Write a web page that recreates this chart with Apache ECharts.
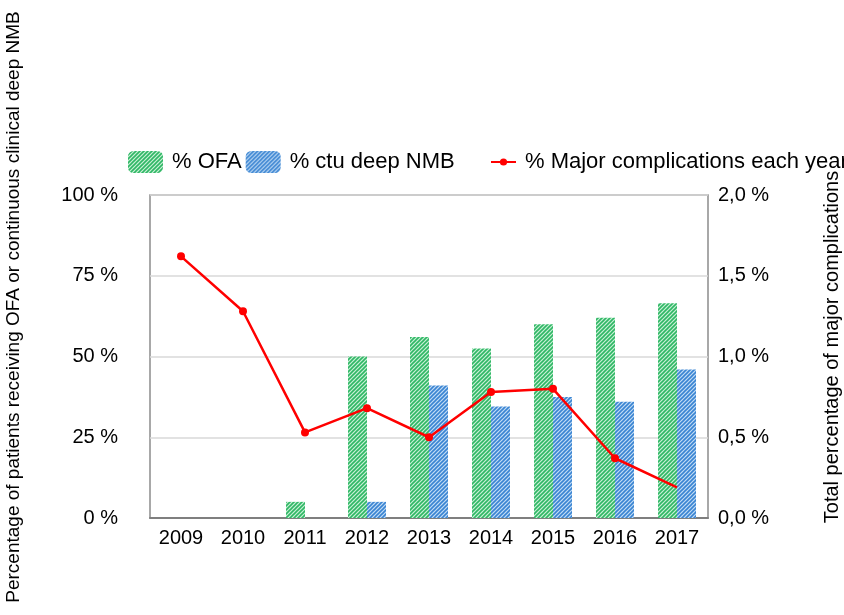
<!DOCTYPE html>
<html>
<head>
<meta charset="utf-8">
<script src="https://cdn.jsdelivr.net/npm/echarts@6/dist/echarts.min.js"></script>
<style>
  html, body { margin: 0; padding: 0; background: #fff; }
  #chart { width: 844px; height: 615px; }
</style>
</head>
<body>
<div id="chart"></div>
<script>
const years = ['2009', '2010', '2011', '2012', '2013', '2014', '2015', '2016', '2017'];
const ofa = [0, 0, 5, 50, 56, 52.5, 60, 62, 66.5];
const ctuNmb = [0, 0, 0, 5, 41, 34.5, 37.5, 36, 46];
const majorComp = [1.62, 1.28, 0.53, 0.68, 0.5, 0.78, 0.8, 0.37, 0.19];
const leftTicks = [0, 25, 50, 75, 100];
const rightTicks = [0, 0.5, 1.0, 1.5, 2.0];

// diagonal hatch pattern like the excel fill
function hatch(bg, line) {
    const c = document.createElement('canvas');
    c.width = 4;
    c.height = 4;
    const ctx = c.getContext('2d');
    ctx.fillStyle = bg;
    ctx.fillRect(0, 0, 4, 4);
    ctx.strokeStyle = line;
    ctx.lineWidth = 1.6;
    ctx.beginPath();
    ctx.moveTo(-1, 5); ctx.lineTo(5, -1);
    ctx.moveTo(-1, 1); ctx.lineTo(1, -1);
    ctx.moveTo(3, 5); ctx.lineTo(5, 3);
    ctx.stroke();
    return { image: c, repeat: 'repeat' };
}

const font = 'Liberation Sans, Arial, sans-serif';
const legendText = { fontSize: 22, color: '#000', fontFamily: font, padding: [0, 0, 0, 4] };
const chart = echarts.init(document.getElementById('chart'));

chart.setOption({
    animation: false,
    textStyle: { fontFamily: font },
    legend: [{
        left: 123,
        top: 146,
        itemGap: 4,
        itemWidth: 35,
        itemHeight: 22,
        textStyle: legendText,
        data: ['% OFA', '% ctu deep NMB']
    }, {
        left: 485,
        top: 146,
        itemWidth: 25,
        itemHeight: 9,
        textStyle: legendText,
        data: ['% Major complications each year']
    }],
    grid: {
        left: 150,
        right: 136,
        top: 195,
        bottom: 97,
        show: true,
        borderColor: '#8c8c8c',
        borderWidth: 1.5
    },
    xAxis: {
        type: 'category',
        data: years,
        axisTick: { show: false },
        axisLine: { lineStyle: { color: '#7f7f7f', width: 2 } },
        axisLabel: { fontSize: 20, color: '#000', margin: 10 }
    },
    yAxis: [{
        type: 'value',
        min: leftTicks[0],
        max: leftTicks[leftTicks.length - 1],
        interval: 25,
        axisLine: { show: false },
        axisTick: { show: false },
        splitLine: { lineStyle: { color: '#d9d9d9', width: 1.5 } },
        axisLabel: { fontSize: 20, color: '#000', margin: 32, formatter: v => v + ' %' }
    }, {
        type: 'value',
        min: rightTicks[0],
        max: rightTicks[rightTicks.length - 1],
        interval: 0.5,
        axisLine: { show: false },
        axisTick: { show: false },
        splitLine: { show: false },
        axisLabel: {
            fontSize: 20, color: '#000', margin: 10,
            formatter: v => v.toFixed(1).replace('.', ',') + ' %'
        }
    }],
    graphic: [{
        type: 'text',
        x: 14,
        y: 307,
        rotation: Math.PI / 2,
        style: {
            text: 'Percentage of patients receiving OFA or continuous clinical deep NMB',
            font: '19px ' + font,
            fill: '#000',
            align: 'center',
            verticalAlign: 'middle'
        }
    }, {
        type: 'text',
        x: 832,
        y: 347,
        rotation: Math.PI / 2,
        style: {
            text: 'Total percentage of major complications',
            font: '20px ' + font,
            fill: '#000',
            align: 'center',
            verticalAlign: 'middle'
        }
    }],
    series: [{
        name: '% OFA',
        type: 'bar',
        data: ofa,
        barWidth: 19,
        barGap: '0%',
        itemStyle: { color: hatch('#c9f0d6', '#2fb765') }
    }, {
        name: '% ctu deep NMB',
        type: 'bar',
        data: ctuNmb,
        barWidth: 19,
        itemStyle: { color: hatch('#c2dcf5', '#3a84d2') }
    }, {
        name: '% Major complications each year',
        type: 'line',
        yAxisIndex: 1,
        data: majorComp.map((v, i) => i === majorComp.length - 1 ? { value: v, symbol: 'none' } : v),
        symbol: 'circle',
        symbolSize: 8,
        lineStyle: { color: '#ff0000', width: 2.5 },
        itemStyle: { color: '#ff0000' }
    }]
});

window.addEventListener('resize', function () {
    chart.resize();
});
</script>
</body>
</html>
